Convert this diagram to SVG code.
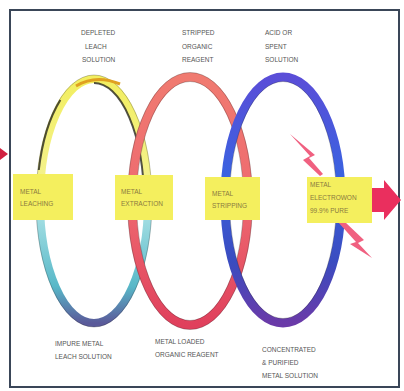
<svg xmlns="http://www.w3.org/2000/svg" width="404" height="391" viewBox="0 0 404 391">
<defs>
<linearGradient id="g1" x1="0" y1="0" x2="0" y2="1"><stop offset="0" stop-color="#f2ee60"/><stop offset="0.45" stop-color="#f4f290"/><stop offset="0.55" stop-color="#a6e0e4"/><stop offset="0.85" stop-color="#58b8c8"/><stop offset="1" stop-color="#5a5a9a"/></linearGradient>
<linearGradient id="g2" x1="0" y1="0" x2="0" y2="1"><stop offset="0" stop-color="#f07a70"/><stop offset="0.5" stop-color="#ee6a70"/><stop offset="1" stop-color="#e0405c"/></linearGradient>
<linearGradient id="g3" x1="0" y1="0" x2="0" y2="1"><stop offset="0" stop-color="#5a4ed8"/><stop offset="0.4" stop-color="#3a62e0"/><stop offset="0.75" stop-color="#3a4cc0"/><stop offset="1" stop-color="#6a3aa8"/></linearGradient>
<style>
.t{font-family:"Liberation Sans",Arial,sans-serif;font-size:6.5px;fill:#555;}
.bt{font-family:"Liberation Sans",Arial,sans-serif;font-size:6.5px;fill:#8a7a40;}
.box{fill:#f4ef5e;}
.shadow{fill:none;stroke:#1a1a1a;stroke-width:2;opacity:0.75;}
.edge{fill:none;stroke:#202020;stroke-width:0.8;opacity:0.35;}
</style>
</defs>
<rect x="0" y="0" width="404" height="391" fill="#ffffff"/>
<rect x="10" y="10" width="389" height="377" fill="none" stroke="#3a4658" stroke-width="2"/>
<g id="ring1">
<ellipse cx="94" cy="201" rx="54" ry="122" fill="none" stroke="url(#g1)" stroke-width="8"/>
<ellipse class="edge" cx="94" cy="201" rx="58" ry="126"/>
<path class="shadow" d="M94,83 A50,118 0 0 1 144,201"/>
<path class="shadow" d="M60.4,100 A57,125 0 0 0 38.8,170" opacity="0.35"/>
<path d="M76,86 Q96,74 120,84" fill="none" stroke="#e0a020" stroke-width="3"/>
</g>
<g id="ring2">
<ellipse cx="190" cy="201" rx="58" ry="124" fill="none" stroke="url(#g2)" stroke-width="9"/>
<ellipse class="edge" cx="190" cy="201" rx="53.5" ry="119.5"/>
<ellipse class="edge" cx="190" cy="201" rx="62.5" ry="128.5"/>
</g>
<g id="ring3">
<ellipse cx="283" cy="200" rx="58" ry="123" fill="none" stroke="url(#g3)" stroke-width="9"/>
<ellipse class="edge" cx="283" cy="200" rx="53.5" ry="118.5"/>
</g>
<g id="connectors">
<polygon points="0,148 8,154 0,160" fill="#d02040"/>
<polygon points="372,188 384,188 384,180 401,200 384,220 384,212 372,212" fill="#ea2f5e"/>
<polygon points="290,134 310,156 303,160 320,176 323,174 309,158 315,155" fill="#f06080"/>
<polygon points="338,222 356,242 350,244 372,258 358,243 364,240 345,222" fill="#f06080"/>
</g>
<g id="box1"><rect class="box" x="13" y="174" width="60" height="46"/><text class="bt" x="20" y="194">METAL</text><text class="bt" x="20" y="206">LEACHING</text></g>
<g id="box2"><rect class="box" x="115" y="175" width="58" height="45"/><text class="bt" x="121" y="194">METAL</text><text class="bt" x="121" y="206">EXTRACTION</text></g>
<g id="box3"><rect class="box" x="205" y="177" width="55" height="43"/><text class="bt" x="212" y="196">METAL</text><text class="bt" x="212" y="208">STRIPPING</text></g>
<g id="box4"><rect class="box" x="307" y="177" width="65" height="46"/><text class="bt" x="310" y="187">METAL</text><text class="bt" x="310" y="200">ELECTROWON</text><text class="bt" x="310" y="213">99.9% PURE</text></g>
<g id="top1"><text class="t" x="81" y="35">DEPLETED</text><text class="t" x="85" y="49">LEACH</text><text class="t" x="82" y="62">SOLUTION</text></g>
<g id="top2"><text class="t" x="182" y="35">STRIPPED</text><text class="t" x="182" y="49">ORGANIC</text><text class="t" x="182" y="62">REAGENT</text></g>
<g id="top3"><text class="t" x="265" y="35">ACID OR</text><text class="t" x="265" y="49">SPENT</text><text class="t" x="265" y="62">SOLUTION</text></g>
<g id="bot1"><text class="t" x="55" y="346">IMPURE METAL</text><text class="t" x="55" y="359">LEACH SOLUTION</text></g>
<g id="bot2"><text class="t" x="155" y="344">METAL LOADED</text><text class="t" x="155" y="357">ORGANIC REAGENT</text></g>
<g id="bot3"><text class="t" x="262" y="352">CONCENTRATED</text><text class="t" x="262" y="365">&amp; PURIFIED</text><text class="t" x="262" y="378">METAL SOLUTION</text></g>
</svg>
